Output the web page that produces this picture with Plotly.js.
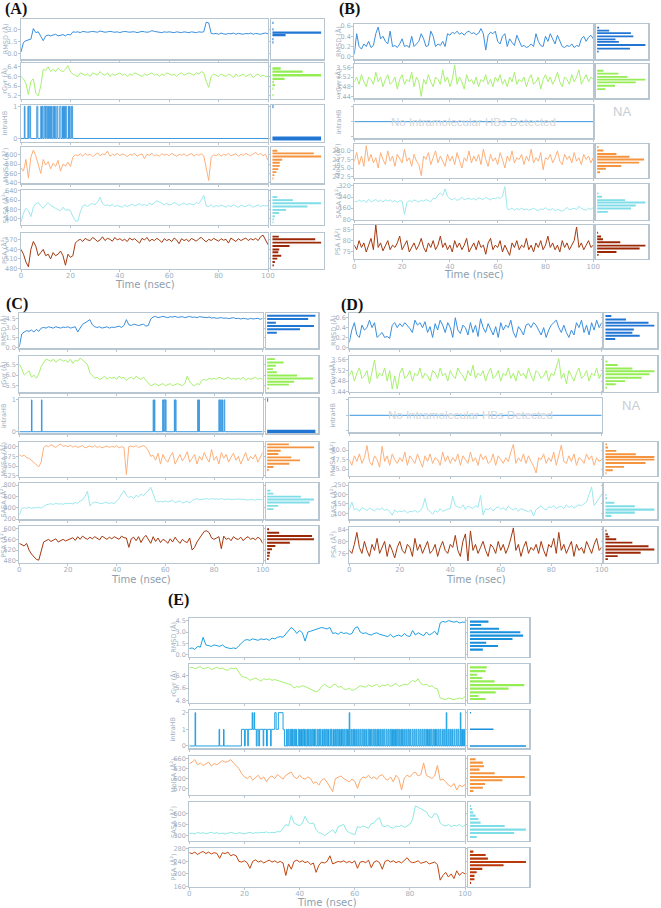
<!DOCTYPE html>
<html><head><meta charset="utf-8">
<script src="https://cdn.plot.ly/plotly-3.0.1.min.js"></script>
<style>html,body{margin:0;padding:0;background:#fff}#chart{width:661px;height:908px}</style>
</head><body><div id="chart"></div>
<script>
// ---------- time axis (nsec) ----------
const time = Array.from({length:101},(_,i)=>i);
const xTickVals = [0,20,40,60,80,100];

// ================= PANEL A =================
const A_rmsd = [0.2,1.4,1.6,1.7,1.8,3.1,2.6,2.7,2.1,1.6,
 2.2,2.3,2.2,2.35,2.4,2.2,2.3,2.35,2.2,2.4,
 2.3,2.7,2.65,2.7,2.6,2.75,2.7,2.65,2.7,2.75,
 2.7,2.65,2.8,2.7,2.65,2.7,2.75,2.7,2.65,2.7,
 2.6,2.7,2.75,2.7,2.65,2.7,2.7,2.6,2.7,2.75,
 2.7,2.65,2.7,2.85,2.75,2.7,2.65,2.6,2.7,2.65,
 2.7,2.65,2.6,2.7,2.65,2.6,2.7,2.65,2.6,2.7,
 2.65,2.6,2.7,2.65,2.7,3.9,3.8,2.5,2.45,2.5,
 2.4,2.55,2.45,2.4,2.5,2.45,2.55,2.4,2.5,2.45,
 2.4,2.5,2.45,2.55,2.4,2.5,2.45,2.4,2.5,2.55,
 2.45];
const A_rgyr = [6.0,5.9,5.7,5.25,5.8,5.9,5.3,5.2,5.6,6.3,
 6.25,6.4,6.2,6.3,6.2,6.35,6.25,6.2,6.3,6.45,
 6.2,6.1,6.05,6.0,6.15,6.1,6.05,6.1,6.0,6.15,
 6.1,6.05,6.2,6.1,6.05,6.15,6.0,6.1,6.05,6.1,
 6.15,6.05,6.1,6.0,6.1,6.05,6.15,6.1,6.05,6.0,
 6.1,6.05,6.1,6.15,6.05,6.1,6.0,6.1,6.05,6.15,
 6.1,6.05,6.1,6.0,6.1,6.15,6.05,6.1,6.15,6.1,
 6.05,6.15,6.1,6.2,6.15,5.8,5.55,6.0,6.1,6.05,
 6.0,6.1,6.05,6.0,6.1,6.05,5.95,6.1,6.0,6.05,
 6.1,6.0,6.05,6.1,5.95,6.05,6.1,6.0,6.05,6.0,
 6.0];
const A_hb_on  = [1.35,2.8,3.3,6.4,8.0,8.5,9.3,9.9,10.8,11.2,11.9,12.3,13.1,13.6,14.5,15.7,16.8,17.4,18.0,19.2,19.6,20.4];
const A_hb_off = [1.6,3.1,3.9,6.8,8.3,8.8,9.7,10.4,11.0,11.5,12.1,12.6,13.4,13.9,14.9,16.2,17.2,17.6,18.5,19.4,19.9,20.9];
const A_molsa = [572,565,590,550,595,610,598,580,560,590,
 578,585,570,582,575,588,565,580,576,584,
 575,595,600,598,602,597,603,599,601,596,
 600,604,598,602,600,608,597,601,599,603,
 598,602,600,596,601,599,603,597,600,602,
 592,601,599,603,598,600,597,602,599,601,
 598,603,600,597,601,599,602,598,600,603,
 597,601,599,602,598,570,545,595,600,598,
 602,597,601,599,603,598,600,602,597,601,
 599,603,600,598,602,605,600,603,598,601,
 588];
const A_sasa = [375,450,490,470,420,500,530,540,510,490,
 520,540,515,500,490,480,470,500,475,480,
 470,420,385,380,460,510,520,505,525,530,
 520,545,585,530,515,520,510,525,505,515,
 510,500,520,505,515,525,510,520,530,515,
 525,510,535,520,540,555,545,530,520,535,
 520,525,540,530,515,525,535,520,530,525,
 520,540,530,560,600,510,505,520,500,515,
 505,520,510,500,515,505,520,510,500,515,
 510,505,520,515,500,510,520,505,515,510,
 515];
const A_psa = [540,525,500,485,540,565,550,520,530,540,
 520,525,510,530,520,525,535,520,490,525,
 515,520,560,568,572,565,575,570,568,578,
 572,565,570,580,568,575,572,566,578,570,
 574,568,572,565,576,570,574,568,560,575,
 570,578,566,572,568,575,570,562,574,568,
 572,565,576,570,558,574,568,572,565,575,
 570,566,574,578,570,564,572,568,575,570,
 566,574,569,572,560,576,570,565,574,568,
 572,576,568,574,570,575,568,580,585,572,
 555];
// histograms A (bin centre, relative count)
const A_rmsd_bin = [3.8,3.0,2.6,2.3,1.8,1.4];          const A_rmsd_n = [2,2,100,27,2,2];
const A_rgyr_bin = [6.33,6.2,6.05,5.9,5.78,5.64,5.5,5.23]; const A_rgyr_n = [17,62,100,25,3,5,2,2];
const A_hb_bin = [0,1];                                 const A_hb_n = [100,2];
const A_molsa_bin = [608.6,602.9,596.4,589.3,582.9,576.4,569.3,562.9,556.4,549.3]; const A_molsa_n = [10,85,100,20,15,15,12,8,4,2];
const A_sasa_bin = [586,560,534,506,477,451,423,397,371]; const A_sasa_n = [10,42,100,72,28,14,5,3,2];
const A_psa_bin = [580.6,572,561.5,551,540,531,520,511,500,489.5]; const A_psa_n = [13,88,100,35,14,12,18,10,5,3];

// ================= PANEL B =================
const B_rmsd = [0.05,0.45,0.2,0.15,0.25,0.2,0.3,0.18,0.22,0.45,
 0.58,0.35,0.4,0.3,0.25,0.5,0.2,0.22,0.18,0.25,
 0.35,0.2,0.22,0.18,0.4,0.2,0.25,0.3,0.45,0.35,
 0.2,0.22,0.5,0.4,0.2,0.25,0.22,0.3,0.2,0.45,
 0.42,0.48,0.45,0.5,0.44,0.47,0.42,0.48,0.5,0.45,
 0.47,0.43,0.46,0.55,0.45,0.13,0.42,0.48,0.45,0.5,
 0.3,0.25,0.4,0.45,0.2,0.35,0.28,0.22,0.42,0.3,
 0.2,0.22,0.18,0.2,0.25,0.2,0.45,0.3,0.22,0.2,
 0.4,0.3,0.45,0.35,0.25,0.42,0.3,0.2,0.18,0.22,
 0.2,0.25,0.18,0.22,0.2,0.35,0.4,0.3,0.38,0.42,
 0.35];
const B_rgyr = [3.50,3.52,3.49,3.53,3.50,3.48,3.52,3.51,3.49,3.54,
 3.50,3.52,3.48,3.51,3.53,3.49,3.50,3.52,3.47,3.51,
 3.53,3.49,3.51,3.50,3.54,3.48,3.52,3.50,3.44,3.51,
 3.49,3.53,3.50,3.48,3.52,3.51,3.49,3.55,3.50,3.52,
 3.48,3.51,3.57,3.49,3.52,3.50,3.47,3.53,3.50,3.51,
 3.49,3.52,3.48,3.51,3.50,3.53,3.49,3.51,3.48,3.52,
 3.50,3.53,3.49,3.51,3.48,3.52,3.50,3.54,3.49,3.51,
 3.50,3.52,3.48,3.51,3.53,3.49,3.50,3.52,3.47,3.51,
 3.53,3.50,3.52,3.49,3.51,3.54,3.50,3.48,3.52,3.51,
 3.49,3.53,3.50,3.52,3.55,3.49,3.51,3.53,3.50,3.52,
 3.51];
const B_hb_level = 0; // no intramolecular H-bonds
const B_molsa = [277.0,279.5,276.0,278.5,275.5,281.5,277.0,279.0,276.5,278.0,
 275.0,279.5,277.5,276.0,280.0,277.0,278.5,275.5,279.0,277.5,
 276.5,280.5,277.0,278.0,275.5,279.0,277.0,276.0,272.8,278.5,
 277.5,279.5,276.0,278.0,280.0,276.5,278.5,277.0,275.5,279.0,
 277.0,278.5,276.0,279.5,277.5,275.0,278.0,277.0,280.0,276.5,
 278.5,277.0,279.0,276.0,280.5,277.5,275.5,279.0,277.0,278.0,
 276.0,279.5,277.5,275.0,278.5,277.0,280.0,276.5,278.0,277.5,
 279.0,276.0,278.5,277.0,280.5,276.5,278.0,277.0,279.5,274.5,
 278.0,277.5,279.0,276.5,278.0,280.0,277.0,276.0,279.0,277.5,
 278.5,276.5,279.5,277.0,278.0,276.0,279.0,277.5,278.5,276.5,
 278.0];
const B_sasa = [212,205,220,208,218,200,225,206,214,222,
 208,218,204,222,210,220,206,216,202,214,
 210,115,200,215,206,220,212,204,218,210,
 222,215,206,232,228,255,270,250,300,245,
 228,220,232,216,224,238,220,228,232,222,
 230,218,235,228,222,238,230,220,232,228,
 238,230,245,315,155,150,162,145,158,150,
 160,148,155,145,152,160,150,142,155,148,
 165,150,145,158,140,152,145,138,150,165,
 148,155,160,150,175,158,150,145,160,152,
 165];
const B_psa = [78,76,80,77,79,75,78,81,76,87,
 77,79,75.5,78,80,76,78,77,79,82,
 76,78,80,75,77,79,76,78,81,77,
 75,79,77,80,76,78,82,77,79,76,
 78,75,80,77,79,76,78,81,75,77,
 79,76,80,77,78,74,79,81,76,78,
 77,80,75,78,76,73.5,79,77,80,76,
 78,77,81,76,78,75,79,77,80,76,
 78,82,77,79,76,78,75,80,77,79,
 76,78,80,86,77,79,76,78,80,77,
 78];
const B_rmsd_bin = [0.57,0.51,0.46,0.40,0.34,0.29,0.23,0.16,0.10]; const B_rmsd_n = [4,25,70,75,38,45,100,68,3];
const B_rgyr_bin = [3.546,3.534,3.521,3.509,3.498,3.484,3.470];    const B_rgyr_n = [13,44,63,100,80,37,17];
const B_molsa_bin = [281.1,280.1,279.1,278.3,277.5,276.6,275.6,274.8,273.8]; const B_molsa_n = [3,13,40,67,97,87,50,18,6];
const B_sasa_bin = [267,242,218,201,179,158,133];                  const B_sasa_n = [3,10,58,100,80,70,22];
const B_psa_bin = [83.5,81.8,80.6,79.3,77.8,76.5,75,73.7];        const B_psa_n = [2,8,12,48,100,88,40,3];

// ================= PANEL C =================
const C_rmsd = [0.1,2.1,2.4,2.6,2.5,2.7,2.4,2.8,2.5,3.0,
 3.1,3.0,3.2,3.1,3.0,3.2,3.1,3.0,3.15,3.1,
 3.2,3.0,3.1,3.2,2.4,3.0,3.6,3.8,4.0,4.3,
 3.5,3.2,3.1,3.2,3.0,3.1,3.2,3.0,3.15,3.1,
 3.2,3.3,3.1,3.4,4.3,3.5,3.4,3.6,3.5,3.4,
 3.5,3.6,3.3,3.4,4.4,4.7,4.8,4.6,4.7,4.8,
 4.7,4.6,4.75,4.7,4.8,4.65,4.7,4.75,4.6,4.7,
 4.8,4.65,4.7,4.6,4.75,4.7,4.65,4.6,4.7,4.55,
 4.6,4.5,4.55,4.6,4.5,4.55,4.45,4.5,4.6,4.45,
 4.5,4.4,4.5,4.45,4.35,4.5,4.4,4.45,4.5,4.35,
 4.5];
const C_rgyr = [6.5,6.3,6.0,6.1,6.2,5.9,6.0,5.85,6.05,6.4,
 6.6,6.75,6.7,6.65,6.75,6.6,6.7,6.75,6.65,6.7,
 6.6,6.75,6.55,6.7,6.65,6.8,6.7,6.6,6.5,6.1,
 5.95,5.85,5.9,5.8,5.85,5.95,5.8,5.9,5.85,5.9,
 5.8,5.95,5.85,5.9,5.75,5.85,5.9,5.8,5.95,5.85,
 5.8,5.9,5.75,5.6,5.5,5.55,5.6,5.5,5.55,5.6,
 5.5,5.55,5.6,5.5,5.55,5.6,5.55,5.5,5.6,5.95,
 5.7,5.55,5.5,5.6,5.55,5.75,5.8,5.75,5.85,5.8,
 5.85,5.8,5.9,5.85,5.8,5.85,5.9,5.8,5.85,5.8,
 5.85,5.8,5.9,5.75,5.85,5.8,5.85,5.9,5.8,5.85,
 5.8];
const C_hb_on  = [5.0,9.1,55.0,55.5,58.9,59.4,60.0,63.7,64.1,73.3,73.7,82.0,82.6,83.2,84.1];
const C_hb_off = [5.2,9.3,55.2,55.7,59.2,59.8,60.3,63.9,64.4,73.5,74.0,82.3,82.9,83.5,84.4];
const C_molsa = [580,575,578,572,570,565,558,555,548,560,
 598,603,600,605,602,598,604,607,601,603,
 600,604,599,602,598,601,603,597,600,602,
 599,603,598,601,597,600,602,598,601,599,
 603,597,600,598,528,600,602,599,603,598,
 601,603,599,590,575,578,565,583,555,580,
 567,560,575,585,555,570,580,563,573,587,
 560,570,580,555,575,565,585,570,560,593,
 565,575,555,585,570,580,560,573,583,565,
 575,555,570,585,563,575,568,580,560,573,
 585];
const C_sasa = [270,380,400,390,410,385,400,395,410,390,
 420,450,460,470,455,480,465,470,460,475,
 470,480,465,490,475,520,540,600,690,430,
 480,500,490,485,470,495,480,475,490,470,
 520,560,640,700,620,580,600,560,620,590,
 640,610,660,700,760,620,520,500,510,505,
 520,500,515,530,490,510,520,480,500,515,
 480,530,540,560,540,550,555,560,545,560,
 550,555,545,560,550,545,555,540,550,545,
 555,550,540,545,535,545,540,535,545,540,
 550];
const C_psa = [545,540,535,545,520,505,495,485,482,520,
 550,555,560,552,558,562,550,556,560,554,
 558,562,566,556,570,560,572,565,560,568,
 562,570,565,558,572,566,560,568,562,570,
 564,560,572,566,565,530,562,568,555,570,
 548,565,575,560,545,570,552,565,548,560,
 555,545,562,550,568,555,545,560,552,548,
 565,520,530,550,565,575,590,592,585,565,
 560,565,570,525,572,560,565,555,570,562,
 560,568,555,565,570,560,565,558,568,562,
 545];
const C_rmsd_bin = [4.9,4.4,3.83,3.32,2.81,2.3];                     const C_rmsd_n = [100,85,18,97,68,20];
const C_rgyr_bin = [6.75,6.59,6.44,6.28,6.13,5.98,5.84,5.69,5.55,5.375]; const C_rgyr_n = [16,34,18,12,20,62,95,56,45,4];
const C_hb_bin = [0,1];                                              const C_hb_n = [100,2];
const C_molsa_bin = [606,598.3,589.7,581,572.4,564.7,556,547.4,539.7]; const C_molsa_n = [45,97,28,23,50,68,46,13,3];
const C_sasa_bin = [701,649,596,544,491,433,375];                     const C_sasa_n = [7,13,70,97,88,23,13];
const C_psa_bin = [597.5,585,572.5,560,547.5,535,522.5,510,498.75,486]; const C_psa_n = [4,25,93,97,47,17,10,6,5,3];

// ================= PANEL D =================
const D_rmsd = [0.1,0.35,0.5,0.25,0.2,0.45,0.35,0.4,0.55,0.4,
 0.5,0.2,0.25,0.3,0.2,0.22,0.18,0.45,0.5,0.4,
 0.48,0.42,0.5,0.45,0.38,0.3,0.55,0.45,0.5,0.4,
 0.52,0.3,0.42,0.2,0.48,0.35,0.55,0.45,0.3,0.5,
 0.4,0.2,0.6,0.35,0.28,0.45,0.4,0.25,0.5,0.3,
 0.45,0.22,0.58,0.4,0.3,0.48,0.35,0.25,0.42,0.2,
 0.5,0.35,0.45,0.4,0.55,0.3,0.2,0.42,0.35,0.25,
 0.45,0.48,0.4,0.5,0.45,0.35,0.25,0.4,0.2,0.35,
 0.45,0.5,0.55,0.4,0.3,0.45,0.3,0.2,0.35,0.25,
 0.5,0.4,0.55,0.3,0.45,0.25,0.5,0.35,0.55,0.4,
 0.5];
const D_rgyr = [3.50,3.52,3.48,3.51,3.53,3.49,3.50,3.52,3.47,3.51,
 3.56,3.49,3.51,3.50,3.53,3.48,3.52,3.45,3.50,3.45,
 3.51,3.53,3.49,3.50,3.52,3.48,3.51,3.50,3.53,3.49,
 3.51,3.50,3.48,3.52,3.51,3.49,3.53,3.50,3.51,3.48,
 3.52,3.50,3.49,3.53,3.51,3.50,3.48,3.52,3.50,3.54,
 3.49,3.51,3.50,3.52,3.48,3.51,3.53,3.49,3.50,3.52,
 3.48,3.51,3.50,3.53,3.49,3.51,3.48,3.52,3.50,3.51,
 3.49,3.53,3.50,3.48,3.52,3.51,3.49,3.50,3.52,3.48,
 3.51,3.50,3.53,3.565,3.49,3.51,3.47,3.52,3.50,3.48,
 3.51,3.53,3.49,3.50,3.52,3.48,3.51,3.50,3.53,3.49,
 3.51];
const D_hb_level = 0; // no intramolecular H-bonds
const D_molsa = [77.5,76.0,78.5,77.0,79.0,76.5,78.0,81.2,77.0,76.0,
 78.5,77.5,75.5,81.0,77.0,78.5,76.0,79.0,77.5,76.5,
 78.0,77.0,79.5,76.0,78.5,77.5,76.5,79.0,77.0,75.5,
 78.5,77.0,79.0,76.5,78.0,77.5,76.0,79.5,77.0,78.5,
 76.5,78.0,77.0,79.0,76.0,78.5,77.5,76.5,79.5,77.0,
 78.0,76.0,79.0,77.5,78.5,76.5,77.0,79.0,76.0,78.5,
 77.5,76.5,78.0,77.0,79.5,81.5,76.5,78.0,77.0,79.0,
 76.5,78.5,77.0,75.8,74.0,78.0,77.5,79.0,76.5,78.0,
 77.0,79.5,76.0,78.5,81.3,77.0,76.5,78.5,77.0,79.0,
 76.0,78.0,77.5,76.5,79.0,77.5,78.5,76.0,78.0,77.0,
 77.5];
const D_sasa = [120,160,118,125,110,130,122,115,128,120,
 112,125,118,130,115,122,110,90,118,105,
 112,108,115,102,110,108,115,105,112,130,
 180,120,110,95,115,105,125,110,118,122,
 125,190,140,135,128,145,120,138,130,125,
 140,132,195,90,125,118,130,112,128,135,
 122,130,115,138,125,118,128,110,125,120,
 115,108,118,85,120,128,140,125,118,135,
 130,140,125,132,138,125,145,130,140,128,
 135,145,140,150,160,200,240,140,160,175,
 200];
const D_psa = [77,76,79,83,78,76,80,77,75,79,
 77,81,76,78,80,75,79,77,74.5,78,
 80,77,76,79,78,75,81,77,79,76,
 78,80,76,77,79,75,78,80,77,76,
 79,78,82,77,75,80,82.5,73.5,83.5,77,
 79,76,78,80,77,75,79,78,76,80,
 77,79,76,78,81,84.5,77,79,75,78,
 80,76,78,77,79,76,80,77,75,79,
 78,81,76,83,77,79,76,78,80,75,
 79,77,78,76,80,78,76,79,81,77,
 78];
const D_rmsd_bin = [0.634,0.566,0.5,0.44,0.36,0.296,0.235,0.167];  const D_rmsd_n = [12,42,88,100,58,55,70,20];
const D_rgyr_bin = [3.554,3.541,3.528,3.517,3.506,3.493,3.48,3.468,3.455]; const D_rgyr_n = [4,25,55,100,90,74,40,21,3];
const D_molsa_bin = [81.5,80.7,79.8,78.9,78.2,77.5,76.6,75.6,74.7,73.9]; const D_molsa_n = [3,5,22,62,100,100,82,38,15,2];
const D_sasa_bin = [197,179,156,137,119.5,103.6,86];                 const D_sasa_n = [2,3,18,60,100,60,12];
const D_psa_bin = [83.6,82.4,81.6,80.7,79.6,78.4,77.3,76.2,75.1,74.1]; const D_psa_n = [2,5,8,22,55,88,100,72,25,5];

// ================= PANEL E =================
const E_rmsd = [0.8,0.9,0.7,1.1,1.0,2.3,1.3,1.2,1.1,1.3,
 1.2,1.1,1.3,1.0,0.9,0.8,0.9,0.8,1.2,1.5,
 1.9,2.0,1.9,2.1,2.0,1.9,2.1,2.0,2.1,1.9,
 2.2,2.1,2.3,2.4,2.3,2.7,3.1,3.6,3.3,2.8,
 3.2,2.9,1.8,3.0,3.1,3.2,3.4,3.5,3.6,3.5,
 3.4,3.6,2.8,2.9,2.7,3.0,2.8,2.9,2.7,2.8,
 3.5,3.7,3.0,2.8,2.9,2.7,2.6,2.8,2.9,2.7,
 2.6,2.5,2.4,2.7,2.3,2.5,2.6,2.4,2.8,2.5,
 2.4,3.2,2.6,2.9,2.7,2.5,3.0,2.6,2.8,3.1,
 2.6,4.2,4.4,4.3,4.5,4.4,4.3,4.4,4.2,4.3,
 4.3];
const E_rgyr = [6.9,6.95,6.85,6.9,7.0,6.85,6.9,6.95,6.8,6.9,
 6.95,6.85,6.9,6.8,6.75,6.9,6.85,6.9,6.6,6.35,
 6.3,6.25,6.1,6.2,6.25,6.15,6.05,6.2,6.15,6.2,
 6.1,6.15,6.1,6.05,5.95,5.9,5.85,5.8,5.6,5.7,
 5.65,5.75,5.7,5.6,5.5,5.4,5.35,5.45,5.7,5.85,
 5.75,5.6,5.8,5.85,5.65,5.7,5.55,5.5,5.6,5.45,
 5.5,5.6,5.75,5.7,5.65,5.8,5.7,5.75,5.85,5.65,
 5.8,5.75,5.85,5.7,5.8,5.9,5.7,5.75,5.85,5.8,
 5.95,6.1,6.0,6.2,5.9,5.8,5.85,5.7,5.75,5.6,
 5.55,4.95,4.9,4.85,4.95,4.9,4.85,4.9,4.95,4.9,
 5.05];
// intraHB: times (nsec) at which the count changes, and count afterwards
const E_hb_t = [0,2.1,2.3,10.8,11.0,12.4,12.6,18.9,20.0,20.3,21.2,21.4,22.8,23.0,23.5,23.7,24.3,24.6,25.2,25.5,26.8,27.0,28.0,28.3,29.5,29.7,31.0,31.5,32.3,34.0,34.5,
 35.2,35.5,35.8,36.1,36.5,36.8,37.0,37.2,37.4,37.7,38.1,38.4,38.6,38.9,39.5,39.8,40.0,40.3,40.7,41.0,41.3,41.6,41.8,42.1,42.6,42.9,43.2,43.5,43.9,44.2,44.5,44.8,45.1,45.4,45.6,45.9,
 46.4,46.7,47.0,47.3,47.5,47.8,48.3,48.6,49.0,49.3,49.6,49.9,50.2,50.5,51.0,51.3,51.5,51.8,52.3,52.6,53.0,53.3,53.6,53.9,54.2,54.5,54.9,55.2,55.5,55.8,56.1,56.4,56.8,57.1,57.4,57.7,
 58.0,58.2,58.6,58.9,59.3,59.6,59.9,60.2,60.6,60.9,61.3,61.6,62.0,62.3,62.7,63.0,63.3,63.6,64.0,64.3,64.8,65.1,65.4,65.7,66.0,66.3,66.7,67.0,67.3,67.6,68.0,68.3,68.6,68.9,
 69.3,69.6,70.0,70.3,70.6,70.9,71.4,71.7,72.1,72.4,72.8,73.1,73.4,73.7,74.1,74.4,74.8,75.1,75.4,75.7,76.0,76.3,76.7,77.0,77.3,77.6,78.0,78.3,78.7,79.0,79.4,79.7,80.0,80.3,
 80.8,81.1,81.5,81.8,82.2,82.5,83.0,83.3,83.7,84.0,84.4,84.7,85.1,85.4,85.8,86.1,86.4,86.7,87.1,87.4,87.7,88.0,88.4,88.7,89.0,89.3,89.6,89.9,90.3,90.6,91.0,91.3,91.8,92.1,
 92.5,92.8,93.2,93.4,93.8,94.1,94.5,94.8,95.2,95.5,96.0,96.3,96.8,97.1,97.5,97.8,98.3,98.5,98.8,99.1,99.5,99.8,100];
const E_hb_v = [0,2,0,1,0,1,0,1,0,1,0,1,2,1,2,1,0,1,0,1,0,1,0,1,0,1,2,1,2,1,0,
 1,0,1,0,1,0,1,0,1,0,1,0,1,0,1,0,1,0,1,0,1,0,1,0,1,0,1,0,1,0,1,0,1,0,1,0,
 1,0,1,0,1,0,1,0,1,0,1,0,1,0,1,0,1,0,1,0,1,0,1,0,1,0,1,0,1,0,1,0,1,0,1,0,
 2,0,1,0,1,0,1,0,1,0,1,0,1,0,1,0,1,0,1,0,1,0,1,0,1,0,1,0,1,0,1,0,1,0,
 1,0,1,0,1,0,1,0,1,0,1,0,1,0,1,0,1,0,1,0,1,0,1,0,1,0,1,0,1,0,1,0,1,0,
 1,0,1,0,1,0,1,0,1,0,1,0,1,0,1,0,1,0,1,0,1,0,1,0,1,0,1,0,1,0,1,0,1,0,
 1,0,2,0,1,0,1,0,1,0,1,0,1,0,1,0,2,0,1,0,1,0,0];
const E_molsa = [645,650,658,642,648,640,645,650,638,646,
 642,648,655,650,652,658,648,640,630,615,
 605,600,608,595,602,610,598,605,590,603,
 608,600,612,605,598,610,615,620,605,600,
 610,602,598,605,600,585,590,580,595,600,
 588,575,560,600,605,608,600,595,590,598,
 592,570,595,605,602,610,600,605,598,608,
 612,600,595,605,590,610,600,565,602,610,
 605,615,620,608,612,648,610,605,600,608,
 640,595,598,590,580,575,585,565,580,575,
 582];
const E_sasa = [325,335,320,345,330,340,325,335,345,330,
 340,325,335,320,330,345,335,325,340,330,
 325,335,345,330,340,335,345,340,350,335,
 345,340,355,350,400,450,430,570,470,450,
 430,470,560,480,460,470,380,340,330,300,
 320,350,380,330,420,440,450,370,340,330,
 310,420,410,430,420,400,460,470,520,540,
 430,420,440,410,400,430,420,440,410,430,
 450,520,700,680,660,650,620,560,540,600,
 580,470,440,430,450,420,440,430,450,420,
 440];
const E_psa = [268,265,270,262,268,272,265,270,264,268,
 266,250,268,265,270,258,262,258,240,238,
 242,236,218,240,245,238,242,235,240,244,
 238,242,236,240,235,195,232,215,240,244,
 238,242,236,240,230,235,205,228,238,235,
 240,258,232,236,240,238,242,236,240,235,
 242,218,238,240,236,244,220,238,242,236,
 215,240,244,238,242,236,240,235,244,252,
 240,236,238,242,234,238,240,232,236,238,
 230,180,195,205,190,200,185,210,195,205,
 200];
const E_rmsd_bin = [4.37,3.93,3.44,2.96,2.52,2.08,1.59,1.15,0.67];   const E_rmsd_n = [33,20,52,90,95,76,29,50,23];
const E_rgyr_bin = [6.94,6.70,6.46,6.25,6.03,5.79,5.56,5.32,5.08,4.89]; const E_rgyr_n = [30,28,13,22,44,97,69,46,15,28];
const E_hb_bin = [0,1,2];                                           const E_hb_n = [100,42,2];
const E_molsa_bin = [659,648.8,637.5,627.3,616,604.8,594.6,583.3,572,561.8]; const E_molsa_n = [10,23,25,17,44,98,58,27,23,6];
const E_sasa_bin = [698.5,658,613,568.6,524,474.6,430,380.6,335.8,282]; const E_sasa_n = [2,4,6,10,15,19,62,100,79,12];
const E_psa_bin = [271.5,260.8,249,238.4,227.7,216,205.3,193.6,183,171.2]; const E_psa_n = [6,28,32,100,60,22,12,8,8,2];

// ---------- helpers ----------
function pulses(on, off){ // 0/1 step series from on/off times
  const x=[time[0]], y=[0];
  on.forEach((s,i)=>{ x.push(s,off[i]); y.push(1,0); });
  x.push(time[time.length-1]); y.push(0);
  return {x,y};
}
const rows = ['rmsd','rgyr','hb','molsa','sasa','psa'];
const yTitles = ['RMSD (Å)','rGyr (Å)','intraHB','MolSA (Å<sup>2</sup>)','SASA (Å<sup>2</sup>)','PSA (Å<sup>2</sup>)'];
const noHbText = 'No Intramolecular HBs Detected';

const SERIES = {
  A:{rmsd:A_rmsd,rgyr:A_rgyr,hb:pulses(A_hb_on,A_hb_off),molsa:A_molsa,sasa:A_sasa,psa:A_psa},
  B:{rmsd:B_rmsd,rgyr:B_rgyr,hb:{x:[time[0],time[100]],y:[B_hb_level,B_hb_level]},molsa:B_molsa,sasa:B_sasa,psa:B_psa},
  C:{rmsd:C_rmsd,rgyr:C_rgyr,hb:pulses(C_hb_on,C_hb_off),molsa:C_molsa,sasa:C_sasa,psa:C_psa},
  D:{rmsd:D_rmsd,rgyr:D_rgyr,hb:{x:[time[0],time[100]],y:[D_hb_level,D_hb_level]},molsa:D_molsa,sasa:D_sasa,psa:D_psa},
  E:{rmsd:E_rmsd,rgyr:E_rgyr,hb:{x:E_hb_t,y:E_hb_v},molsa:E_molsa,sasa:E_sasa,psa:E_psa}
};
const HIST = {
  A:{rmsd:[A_rmsd_bin,A_rmsd_n],rgyr:[A_rgyr_bin,A_rgyr_n],hb:[A_hb_bin,A_hb_n],molsa:[A_molsa_bin,A_molsa_n],sasa:[A_sasa_bin,A_sasa_n],psa:[A_psa_bin,A_psa_n]},
  B:{rmsd:[B_rmsd_bin,B_rmsd_n],rgyr:[B_rgyr_bin,B_rgyr_n],hb:null,molsa:[B_molsa_bin,B_molsa_n],sasa:[B_sasa_bin,B_sasa_n],psa:[B_psa_bin,B_psa_n]},
  C:{rmsd:[C_rmsd_bin,C_rmsd_n],rgyr:[C_rgyr_bin,C_rgyr_n],hb:[C_hb_bin,C_hb_n],molsa:[C_molsa_bin,C_molsa_n],sasa:[C_sasa_bin,C_sasa_n],psa:[C_psa_bin,C_psa_n]},
  D:{rmsd:[D_rmsd_bin,D_rmsd_n],rgyr:[D_rgyr_bin,D_rgyr_n],hb:null,molsa:[D_molsa_bin,D_molsa_n],sasa:[D_sasa_bin,D_sasa_n],psa:[D_psa_bin,D_psa_n]},
  E:{rmsd:[E_rmsd_bin,E_rmsd_n],rgyr:[E_rgyr_bin,E_rgyr_n],hb:[E_hb_bin,E_hb_n],molsa:[E_molsa_bin,E_molsa_n],sasa:[E_sasa_bin,E_sasa_n],psa:[E_psa_bin,E_psa_n]}
};

// ---------- layout geometry (pixels) ----------
const W=661, H=908;
const GEO = {
  A:{ts:[21,268],hi:[271,324],rows:[[19.3,59.3],[62.7,98.7],[105,141.7],[147.3,183.3],[190,225],[233.3,268.7]],lab:[4,9],timeY:285,noHb:null},
  B:{ts:[354.3,593.3],hi:[595.7,648.3],rows:[[24,59.3],[64,98.3],[105,138.3],[144,177.7],[184.3,220],[225,259]],lab:[338,9],timeY:275,noHb:390},
  C:{ts:[19.3,262.7],hi:[265.7,318.3],rows:[[313.3,348.3],[355.7,392.3],[398.3,433.3],[441.7,476.7],[483.3,519.3],[526,562.7]],lab:[5,304],timeY:579,noHb:null},
  D:{ts:[349.3,601.7],hi:[604,657.3],rows:[[313.3,348.3],[356,391.7],[398.3,432.3],[441.7,476],[483.3,519.3],[526.7,562.7]],lab:[340,305],timeY:579,noHb:387},
  E:{ts:[189.3,465],hi:[468.3,529.3],rows:[[618.3,656.7],[664,702.7],[710,748.3],[756,795],[802.3,841],[847.7,886.7]],lab:[167,600],timeY:902.5,noHb:null}
};
const RANGE = {
  A:[[-0.7,4.25],[5.08,6.57],[-0.1,1.04],[539,616],[349,646],[479,591]],
  B:[[-0.05,0.64],[3.432,3.574],[-1.1,1.1],[272.2,282],[75,332],[71.9,86.9]],
  C:[[-0.1,5.27],[5.19,6.91],[-0.05,1.05],[522.4,613],[195,830],[472.5,610]],
  D:[[-0.02,0.69],[3.44,3.575],[-1.1,1.1],[73.2,82.2],[68,259],[72.9,84.9]],
  E:[[-0.26,4.81],[4.65,7.16],[-0.14,2.16],[549.6,669],[228,748],[159,284]]
};
const TICKS = {
  A:[[[0,1.5,3],'.1f'],[[5.2,5.6,6.0,6.4],'.1f'],[[0,1],'d'],[[540,560,580,600],'d'],[[400,480,560,640],'d'],[[480,510,540,570],'d']],
  B:[[[0,0.2,0.4,0.6],'.1f'],[[3.44,3.48,3.52,3.56],'.2f'],[[-1,0,1],'none'],[[272.5,275,277.5,280],'.1f'],[[80,160,240,320],'d'],[[75,80,85],'d']],
  C:[[[0,1.5,3,4.5],'.1f'],[[5.5,6.0,6.5],'.1f'],[[0,1],'d'],[[525,550,575,600],'d'],[[200,400,600,800],'d'],[[480,520,560,600],'d']],
  D:[[[0,0.2,0.4,0.6],'.1f'],[[3.44,3.48,3.52,3.56],'.2f'],[[-1,0,1],'none'],[[75,77.5,80],'.1f'],[[100,150,200,250],'d'],[[76,80,84],'d']],
  E:[[[0,1.5,3,4.5],'.1f'],[[4.8,5.6,6.4],'.1f'],[[0,1,2],'d'],[[570,600,630,660],'d'],[[300,450,600],'d'],[[160,200,240,280],'d']]
};
const LINE_COL = {rmsd:'#3a8fdd',rgyr:'#a6f06e',hb:'#3a98e0',molsa:'#fdb07a',sasa:'#9ce8ee',psa:'#a3390f'};
const HIST_COL = {rmsd:'#2176d4',rgyr:'#95ed55',hb:'#2176d4',molsa:'#f5943e',sasa:'#7edde7',psa:'#9a2807'};
const E_LINE = {rmsd:'#1ea0e3',hb:'#1ea0e3',molsa:'#fca86c',sasa:'#8ce8e2',psa:'#c0460f'};
const E_HIST = {rmsd:'#1a8fdc',hb:'#1a8fdc',psa:'#b83808'};
const AX = '#b7c6d0', TXT = '#9fb0be', FONT = 'DejaVu Sans, sans-serif';

const fx = p => p/W, fy = p => 1 - p/H;
const traces = [], layout = {
  width:W, height:H, margin:{l:0,r:0,t:0,b:0}, showlegend:false,
  paper_bgcolor:'#fff', plot_bgcolor:'#fff', font:{family:FONT,color:TXT},
  annotations:[]
};
const ann = o => layout.annotations.push(Object.assign({xref:'paper',yref:'paper',showarrow:false,borderpad:0},o));

['A','B','C','D','E'].forEach((P,pi)=>{
  const g = GEO[P];
  ann({x:fx(g.lab[0]),y:fy(g.lab[1]),xanchor:'left',yanchor:'middle',
    text:'<b>('+P+')</b>',font:{family:'Liberation Serif, Times New Roman, serif',size:16,color:'#111'}});
  ann({x:fx((g.ts[0]+g.ts[1])/2),y:fy(g.timeY),xanchor:'center',yanchor:'middle',
    text:'Time (nsec)',font:{size:10,color:'#8d9eae'}});
  rows.forEach((r,ri)=>{
    const n = pi*12 + ri*2 + 1, m = n+1;
    const [top,bot] = g.rows[ri];
    const yd = [fy(bot), fy(top)];
    const lastRow = ri===rows.length-1;
    const lc = (P==='E' && E_LINE[r]) ? E_LINE[r] : LINE_COL[r];
    const hc = (P==='E' && E_HIST[r]) ? E_HIST[r] : HIST_COL[r];
    const [tv, fmt] = TICKS[P][ri];
    const rng = RANGE[P][ri];
    // y title
    ann({x:fx(g.ts[0]-16),y:fy((top+bot)/2),xanchor:'center',yanchor:'middle',textangle:-90,
      text:yTitles[ri],font:{size:6.5,color:TXT}});
    // time series
    const s = SERIES[P][r];
    const isStep = r==='hb';
    traces.push({type:'scatter',mode:'lines',x: isStep? s.x : time, y: isStep? s.y : s,
      xaxis:'x'+n, yaxis:'y'+n, line:{color:lc,width:1,shape:isStep?'hv':'linear'},hoverinfo:'skip'});
    layout['xaxis'+n] = {domain:[fx(g.ts[0]),fx(g.ts[1])],anchor:'y'+n,range:[0,100],tickvals:xTickVals,
      showticklabels:lastRow,ticks:'outside',ticklen:2,tickcolor:AX,tickwidth:1,ticklabelstandoff:-2,
      showline:true,mirror:true,linecolor:AX,linewidth:1.2,showgrid:false,zeroline:false,
      tickfont:{size:7,color:TXT}};
    const yax = {domain:yd,anchor:'x'+n,range:rng,tickvals:tv,
      ticks:'outside',ticklen:2,tickcolor:AX,tickwidth:1,tickfont:{size:6.5,color:TXT},ticklabelstandoff:-1,
      showline:true,mirror:true,linecolor:AX,linewidth:1.2,showgrid:false,zeroline:false};
    if(fmt==='none') yax.showticklabels = false;
    else yax.ticktext = tv.map(v=> fmt==='d'? String(Math.round(v)) : v.toFixed(fmt==='.2f'?2:1));
    layout['yaxis'+n] = yax;
    // histogram
    const h = HIST[P][r];
    if(h){
      const [bins,counts] = h;
      let sp = isStep ? 0.12 : Math.abs(bins[0]-bins[bins.length-1])/(bins.length-1)*0.6;
      if(isStep && P==='E') sp = 0.09;
      traces.push({type:'bar',orientation:'h',x:counts,y:bins,width:sp,base:0,
        xaxis:'x'+m,yaxis:'y'+m,marker:{color:hc,line:{width:0}},hoverinfo:'skip'});
    } else {
      ann({x:fx((g.hi[0]+g.hi[1])/2),y:fy(top+7),text:'NA',xanchor:'center',yanchor:'middle',
        font:{family:'Liberation Sans, Arial, sans-serif',size:13,color:'#c7cdd3'}});
      ann({x:fx(g.noHb),y:fy((top+bot)/2),text:noHbText,xanchor:'left',align:'left',yanchor:'middle',
        font:{family:'Liberation Sans, Arial, sans-serif',size:11.5,color:'#d2d6da'}});
    }
    layout['xaxis'+m] = {domain:[fx(g.hi[0]),fx(g.hi[1])],anchor:'y'+m,range:[-3,106],showticklabels:false,ticks:'',
      showline:true,mirror:true,linecolor:AX,linewidth:1.2,showgrid:false,zeroline:false};
    layout['yaxis'+m] = {domain:yd,anchor:'x'+m,range:rng,tickvals: h? tv : [],showticklabels:false,
      ticks: h? 'outside':'',ticklen:2,tickcolor:AX,
      showline:true,mirror:true,linecolor:AX,linewidth:1.2,showgrid:false,zeroline:false};
  });
});
layout.xaxis = layout.xaxis1; delete layout.xaxis1;
layout.yaxis = layout.yaxis1; delete layout.yaxis1;
traces.forEach(t=>{ if(t.xaxis==='x1') t.xaxis='x'; if(t.yaxis==='y1') t.yaxis='y'; });
layout.xaxis.anchor = 'y'; layout.yaxis.anchor = 'x';
Plotly.newPlot('chart', traces, layout, {staticPlot:true, displayModeBar:false});
</script>
</body></html>
